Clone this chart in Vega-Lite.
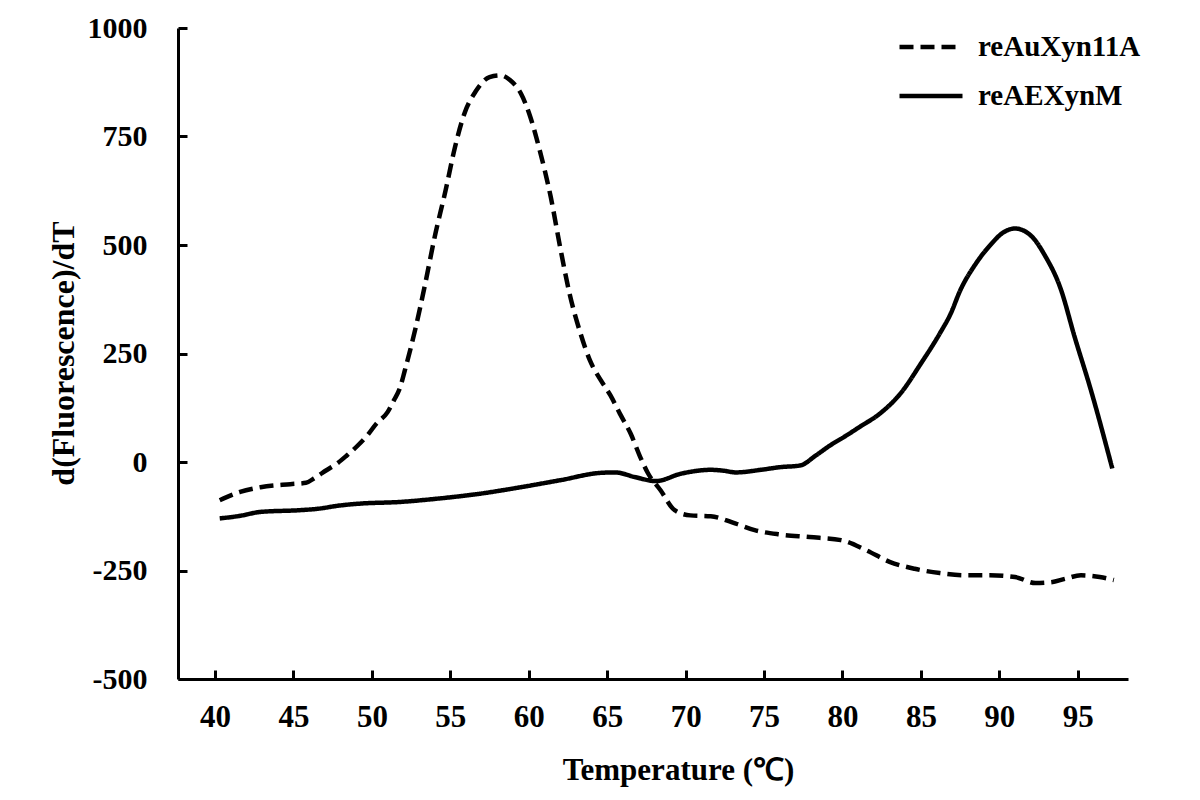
{
  "$schema": "https://vega.github.io/schema/vega-lite/v6.json",
  "width": 950,
  "height": 651,
  "autosize": "none",
  "padding": {"left": 178, "top": 28, "right": 72, "bottom": 121},
  "background": "white",
  "config": {"view": {"stroke": null}, "font": "Liberation Serif"},
  "data": {"values": [
    {"T": 40.3, "v": -88, "s": "reAuXyn11A"},
    {"T": 41.6, "v": -69, "s": "reAuXyn11A"},
    {"T": 42.9, "v": -58, "s": "reAuXyn11A"},
    {"T": 44.8, "v": -51, "s": "reAuXyn11A"},
    {"T": 45.8, "v": -48, "s": "reAuXyn11A"},
    {"T": 46.3, "v": -38, "s": "reAuXyn11A"},
    {"T": 47.1, "v": -19, "s": "reAuXyn11A"},
    {"T": 47.8, "v": -3, "s": "reAuXyn11A"},
    {"T": 48.4, "v": 15, "s": "reAuXyn11A"},
    {"T": 49.1, "v": 38, "s": "reAuXyn11A"},
    {"T": 49.7, "v": 61, "s": "reAuXyn11A"},
    {"T": 50.3, "v": 89, "s": "reAuXyn11A"},
    {"T": 51.0, "v": 115, "s": "reAuXyn11A"},
    {"T": 51.4, "v": 142, "s": "reAuXyn11A"},
    {"T": 51.8, "v": 172, "s": "reAuXyn11A"},
    {"T": 52.1, "v": 211, "s": "reAuXyn11A"},
    {"T": 52.8, "v": 311, "s": "reAuXyn11A"},
    {"T": 53.4, "v": 411, "s": "reAuXyn11A"},
    {"T": 54.0, "v": 518, "s": "reAuXyn11A"},
    {"T": 54.7, "v": 626, "s": "reAuXyn11A"},
    {"T": 55.3, "v": 726, "s": "reAuXyn11A"},
    {"T": 55.9, "v": 803, "s": "reAuXyn11A"},
    {"T": 56.6, "v": 853, "s": "reAuXyn11A"},
    {"T": 57.5, "v": 887, "s": "reAuXyn11A"},
    {"T": 58.2, "v": 891, "s": "reAuXyn11A"},
    {"T": 58.8, "v": 880, "s": "reAuXyn11A"},
    {"T": 59.5, "v": 849, "s": "reAuXyn11A"},
    {"T": 60.1, "v": 795, "s": "reAuXyn11A"},
    {"T": 60.7, "v": 718, "s": "reAuXyn11A"},
    {"T": 61.4, "v": 611, "s": "reAuXyn11A"},
    {"T": 62.0, "v": 495, "s": "reAuXyn11A"},
    {"T": 62.6, "v": 388, "s": "reAuXyn11A"},
    {"T": 63.3, "v": 296, "s": "reAuXyn11A"},
    {"T": 63.9, "v": 234, "s": "reAuXyn11A"},
    {"T": 64.6, "v": 188, "s": "reAuXyn11A"},
    {"T": 65.2, "v": 154, "s": "reAuXyn11A"},
    {"T": 65.8, "v": 112, "s": "reAuXyn11A"},
    {"T": 66.5, "v": 65, "s": "reAuXyn11A"},
    {"T": 67.1, "v": 12, "s": "reAuXyn11A"},
    {"T": 67.6, "v": -26, "s": "reAuXyn11A"},
    {"T": 68.4, "v": -65, "s": "reAuXyn11A"},
    {"T": 69.3, "v": -111, "s": "reAuXyn11A"},
    {"T": 70.3, "v": -123, "s": "reAuXyn11A"},
    {"T": 71.6, "v": -125, "s": "reAuXyn11A"},
    {"T": 73.2, "v": -142, "s": "reAuXyn11A"},
    {"T": 74.4, "v": -157, "s": "reAuXyn11A"},
    {"T": 76.0, "v": -167, "s": "reAuXyn11A"},
    {"T": 77.9, "v": -173, "s": "reAuXyn11A"},
    {"T": 79.9, "v": -180, "s": "reAuXyn11A"},
    {"T": 81.5, "v": -203, "s": "reAuXyn11A"},
    {"T": 83.0, "v": -230, "s": "reAuXyn11A"},
    {"T": 84.6, "v": -246, "s": "reAuXyn11A"},
    {"T": 86.2, "v": -256, "s": "reAuXyn11A"},
    {"T": 87.8, "v": -261, "s": "reAuXyn11A"},
    {"T": 89.4, "v": -261, "s": "reAuXyn11A"},
    {"T": 91.0, "v": -265, "s": "reAuXyn11A"},
    {"T": 92.3, "v": -279, "s": "reAuXyn11A"},
    {"T": 93.3, "v": -277, "s": "reAuXyn11A"},
    {"T": 94.2, "v": -269, "s": "reAuXyn11A"},
    {"T": 95.2, "v": -261, "s": "reAuXyn11A"},
    {"T": 96.4, "v": -265, "s": "reAuXyn11A"},
    {"T": 97.3, "v": -272, "s": "reAuXyn11A"},
    {"T": 40.3, "v": -130, "s": "reAEXynM"},
    {"T": 41.6, "v": -124, "s": "reAEXynM"},
    {"T": 42.9, "v": -115, "s": "reAEXynM"},
    {"T": 45.4, "v": -111, "s": "reAEXynM"},
    {"T": 46.5, "v": -108, "s": "reAEXynM"},
    {"T": 48.0, "v": -100, "s": "reAEXynM"},
    {"T": 49.2, "v": -96, "s": "reAEXynM"},
    {"T": 51.8, "v": -92, "s": "reAEXynM"},
    {"T": 54.3, "v": -84, "s": "reAEXynM"},
    {"T": 56.9, "v": -73, "s": "reAEXynM"},
    {"T": 59.5, "v": -58, "s": "reAEXynM"},
    {"T": 62.0, "v": -42, "s": "reAEXynM"},
    {"T": 64.6, "v": -25, "s": "reAEXynM"},
    {"T": 65.5, "v": -24, "s": "reAEXynM"},
    {"T": 66.8, "v": -35, "s": "reAEXynM"},
    {"T": 68.1, "v": -44, "s": "reAEXynM"},
    {"T": 69.7, "v": -27, "s": "reAEXynM"},
    {"T": 71.6, "v": -18, "s": "reAEXynM"},
    {"T": 72.4, "v": -20, "s": "reAEXynM"},
    {"T": 73.2, "v": -24, "s": "reAEXynM"},
    {"T": 74.8, "v": -18, "s": "reAEXynM"},
    {"T": 76.0, "v": -12, "s": "reAEXynM"},
    {"T": 77.3, "v": -8, "s": "reAEXynM"},
    {"T": 78.3, "v": 15, "s": "reAEXynM"},
    {"T": 79.2, "v": 38, "s": "reAEXynM"},
    {"T": 80.2, "v": 60, "s": "reAEXynM"},
    {"T": 81.1, "v": 81, "s": "reAEXynM"},
    {"T": 82.4, "v": 112, "s": "reAEXynM"},
    {"T": 83.7, "v": 158, "s": "reAEXynM"},
    {"T": 85.0, "v": 227, "s": "reAEXynM"},
    {"T": 86.2, "v": 296, "s": "reAEXynM"},
    {"T": 86.9, "v": 342, "s": "reAEXynM"},
    {"T": 87.5, "v": 395, "s": "reAEXynM"},
    {"T": 88.5, "v": 457, "s": "reAEXynM"},
    {"T": 89.4, "v": 499, "s": "reAEXynM"},
    {"T": 90.3, "v": 530, "s": "reAEXynM"},
    {"T": 91.0, "v": 538, "s": "reAEXynM"},
    {"T": 92.0, "v": 522, "s": "reAEXynM"},
    {"T": 92.9, "v": 476, "s": "reAEXynM"},
    {"T": 93.9, "v": 400, "s": "reAEXynM"},
    {"T": 94.8, "v": 288, "s": "reAEXynM"},
    {"T": 95.8, "v": 170, "s": "reAEXynM"},
    {"T": 97.2, "v": -15, "s": "reAEXynM"}
  ]},
  "mark": {"type": "line", "interpolate": "monotone", "color": "black", "strokeWidth": 4.5},
  "encoding": {
    "x": {
      "field": "T", "type": "quantitative",
      "scale": {"domain": [37.64, 98.2], "nice": false, "zero": false},
      "axis": {
        "values": [40, 45, 50, 55, 60, 65, 70, 75, 80, 85, 90, 95],
        "grid": false, "domainColor": "black", "domainWidth": 3,
        "tickColor": "black", "tickWidth": 3, "tickSize": -9,
        "labelFont": "Liberation Serif", "labelFontWeight": "bold", "labelFontSize": 31, "labelColor": "black",
        "labelPadding": 32, "labelBaseline": "top",
        "title": "Temperature (℃)", "titleFont": "Liberation Serif", "titleFontWeight": "bold", "titleFontSize": 31, "titleColor": "black",
        "titleX": 500, "titleY": 91, "titleBaseline": "middle", "titleAlign": "center"
      }
    },
    "y": {
      "field": "v", "type": "quantitative",
      "scale": {"domain": [-500, 1000], "nice": false, "zero": false},
      "axis": {
        "values": [-500, -250, 0, 250, 500, 750, 1000],
        "labelExpr": "datum.value + ''",
        "grid": false, "domainColor": "black", "domainWidth": 3,
        "tickColor": "black", "tickWidth": 3, "tickSize": -9,
        "labelFont": "Liberation Serif", "labelFontWeight": "bold", "labelFontSize": 30, "labelColor": "black",
        "labelPadding": 40,
        "title": "d(Fluorescence)/dT", "titleFont": "Liberation Serif", "titleFontWeight": "bold", "titleFontSize": 32, "titleColor": "black",
        "titleX": -115, "titleY": 325, "titleAngle": -90, "titleBaseline": "middle", "titleAlign": "center"
      }
    },
    "strokeDash": {
      "field": "s", "type": "nominal",
      "scale": {"domain": ["reAuXyn11A", "reAEXynM"], "range": [[14, 7], [1, 0]]},
      "legend": {
        "title": null, "orient": "none", "legendX": 719, "legendY": -15, "padding": 0,
        "symbolType": "stroke", "symbolSize": 3969, "symbolStrokeWidth": 4.5, "symbolStrokeColor": "black",
        "labelFont": "Liberation Serif", "labelFontWeight": "bold", "labelFontSize": 29, "labelColor": "black",
        "labelLimit": 0, "labelOffset": 13, "rowPadding": -17
      }
    }
  }
}
